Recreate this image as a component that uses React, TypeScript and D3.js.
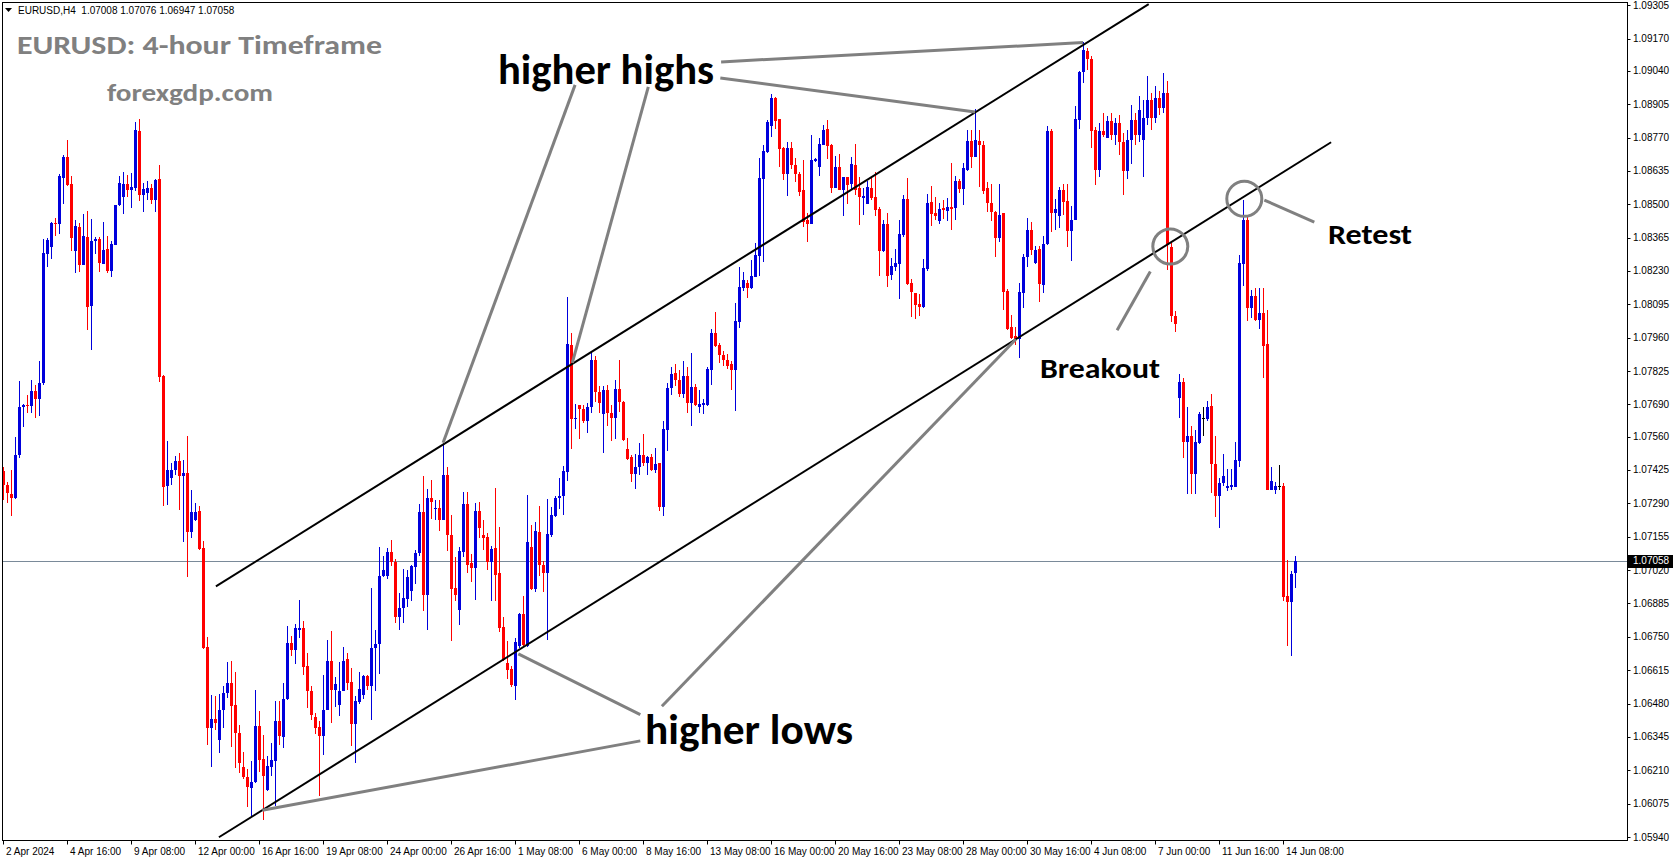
import React from 'react';
import * as d3 from 'd3';

// ---- Candle data (EURUSD H4, 2 Apr 2024 00:00 -> 14 Jun 2024 20:00) ----
const opens = [
1.07421,1.07366,1.07327,1.07310,1.07487,1.07680,1.07688,1.07682,1.07745,1.07711,
1.07776,1.08299,1.08329,1.08424,1.08422,1.08608,1.08690,1.08582,1.08312,1.08408,
1.08256,1.08368,1.08090,1.08353,1.08358,1.08260,1.08319,1.08228,1.08337,1.08496,
1.08531,1.08582,1.08558,1.08567,1.08796,1.08539,1.08547,1.08566,1.08517,1.08602,
1.07806,1.07361,1.07394,1.07423,1.07462,1.07401,1.07412,1.07172,1.07221,1.07260,
1.07109,1.06710,1.06379,1.06417,1.06331,1.06452,1.06524,1.06564,1.06475,1.06362,
1.06224,1.06184,1.06138,1.06162,1.06390,1.06255,1.06129,1.06222,1.06246,1.06408,
1.06343,1.06497,1.06723,1.06695,1.06779,1.06787,1.06630,1.06532,1.06424,1.06387,
1.06347,1.06455,1.06653,1.06533,1.06475,1.06532,1.06661,1.06568,1.06397,1.06486,
1.06516,1.06590,1.06549,1.06703,1.06719,1.06997,1.06998,1.07094,1.07051,1.06832,
1.06866,1.06902,1.06937,1.07032,1.07089,1.07256,1.06919,1.07312,1.07268,1.07272,
1.07222,1.07405,1.07161,1.06948,1.06859,1.07095,1.07288,1.07047,1.07029,1.07260,
1.07161,1.07152,1.07053,1.07109,1.07009,1.06790,1.06646,1.06618,1.06552,1.06714,
1.06843,1.06711,1.07115,1.06942,1.07175,1.07041,1.07010,1.07163,1.07237,1.07310,
1.07318,1.07418,1.07931,1.07630,1.07687,1.07671,1.07625,1.07678,1.07870,1.07742,
1.07651,1.07749,1.07655,1.07634,1.07752,1.07700,1.07509,1.07477,1.07408,1.07439,
1.07486,1.07455,1.07479,1.07425,1.07452,1.07277,1.07585,1.07756,1.07816,1.07789,
1.07733,1.07806,1.07695,1.07760,1.07679,1.07688,1.07688,1.07830,1.07978,1.07931,
1.07891,1.07870,1.07853,1.07830,1.08025,1.08163,1.08183,1.08160,1.08207,1.08292,
1.08602,1.08713,1.08818,1.08929,1.08845,1.08726,1.08623,1.08726,1.08659,1.08623,
1.08558,1.08437,1.08420,1.08675,1.08652,1.08740,1.08803,1.08740,1.08567,1.08650,
1.08558,1.08609,1.08581,1.08659,1.08567,1.08527,1.08501,1.08567,1.08528,1.08480,
1.08311,1.08420,1.08214,1.08248,1.08258,1.08376,1.08522,1.08180,1.08140,1.08097,
1.08086,1.08237,1.08508,1.08466,1.08433,1.08485,1.08474,1.08488,1.08486,1.08594,
1.08561,1.08639,1.08757,1.08693,1.08756,1.08740,1.08565,1.08504,1.08470,1.08365,
1.08464,1.08149,1.08002,1.07965,1.07954,1.08140,1.08286,1.08396,1.08261,1.08318,
1.08174,1.08338,1.08797,1.08466,1.08453,1.08558,1.08513,1.08392,1.08437,1.08841,
1.09034,1.09120,1.09088,1.08801,1.08639,1.08797,1.08770,1.08837,1.08780,1.08830,
1.08750,1.08636,1.08760,1.08840,1.08780,1.08760,1.08850,1.08920,1.08850,1.08930,
1.08890,1.08950,1.08326,1.08048,1.07718,1.07779,1.07540,1.07563,1.07408,1.07536,
1.07634,1.07630,1.07682,1.07450,1.07318,1.07372,1.07354,1.07358,1.07358,1.07462,
1.08257,1.08437,1.08079,1.08127,1.08032,1.08059,1.07934,1.07345,1.07345,1.07361,
1.07361,1.06916,1.06889,1.07008
];
const highs = [
1.07439,1.07378,1.07425,1.07560,1.07785,1.07690,1.07729,1.07789,1.07769,1.07864,
1.08360,1.08365,1.08430,1.08443,1.08623,1.08700,1.08760,1.08615,1.08438,1.08424,
1.08461,1.08473,1.08441,1.08369,1.08368,1.08428,1.08372,1.08350,1.08497,1.08615,
1.08632,1.08620,1.08627,1.08833,1.08845,1.08588,1.08594,1.08584,1.08602,1.08659,
1.07808,1.07544,1.07453,1.07482,1.07493,1.07466,1.07564,1.07345,1.07292,1.07280,
1.07138,1.06751,1.06513,1.06510,1.06517,1.06549,1.06649,1.06653,1.06609,1.06394,
1.06285,1.06215,1.06249,1.06536,1.06448,1.06351,1.06266,1.06320,1.06491,1.06491,
1.06565,1.06795,1.06752,1.06803,1.06900,1.06815,1.06684,1.06549,1.06441,1.06408,
1.06594,1.06738,1.06774,1.06586,1.06650,1.06707,1.06684,1.06622,1.06509,1.06609,
1.06595,1.06596,1.06947,1.06778,1.07115,1.07078,1.07109,1.07142,1.07064,1.06927,
1.07024,1.07021,1.07041,1.07102,1.07288,1.07401,1.07347,1.07385,1.07304,1.07304,
1.07529,1.07435,1.07241,1.07071,1.07112,1.07335,1.07336,1.07085,1.07293,1.07297,
1.07223,1.07169,1.07118,1.07354,1.07196,1.06832,1.06731,1.06633,1.06745,1.06848,
1.06916,1.07324,1.07203,1.07214,1.07280,1.07057,1.07307,1.07274,1.07318,1.07392,
1.07442,1.08125,1.07978,1.07692,1.07688,1.07688,1.07695,1.07904,1.07886,1.07763,
1.07763,1.07767,1.07686,1.07789,1.07870,1.07705,1.07556,1.07486,1.07489,1.07533,
1.07571,1.07482,1.07489,1.07513,1.07455,1.07625,1.07776,1.07843,1.07854,1.07830,
1.07866,1.07841,1.07900,1.07773,1.07749,1.07711,1.07843,1.07994,1.08066,1.07940,
1.07908,1.07893,1.07864,1.08102,1.08248,1.08226,1.08194,1.08275,1.08342,1.08686,
1.08740,1.08841,1.08946,1.08935,1.08845,1.08733,1.08753,1.08753,1.08686,1.08632,
1.08679,1.08464,1.08780,1.08686,1.08767,1.08821,1.08841,1.08743,1.08695,1.08703,
1.08612,1.08612,1.08693,1.08743,1.08612,1.08565,1.08596,1.08612,1.08631,1.08487,
1.08437,1.08464,1.08282,1.08318,1.08437,1.08538,1.08608,1.08196,1.08143,1.08137,
1.08278,1.08542,1.08575,1.08531,1.08507,1.08518,1.08524,1.08666,1.08614,1.08601,
1.08668,1.08801,1.08801,1.08884,1.08801,1.08757,1.08591,1.08582,1.08473,1.08582,
1.08466,1.08158,1.08050,1.08002,1.08180,1.08298,1.08443,1.08428,1.08331,1.08333,
1.08372,1.08817,1.08804,1.08520,1.08571,1.08582,1.08582,1.08491,1.08898,1.09039,
1.09158,1.09131,1.09100,1.08811,1.08828,1.08871,1.08857,1.08870,1.08850,1.08860,
1.08790,1.08800,1.08900,1.08870,1.08940,1.08920,1.09020,1.08950,1.08980,1.08960,
1.09030,1.09000,1.08342,1.08069,1.07812,1.07796,1.07679,1.07603,1.07587,1.07661,
1.07679,1.07706,1.07732,1.07563,1.07392,1.07489,1.07428,1.07428,1.07537,1.08295,
1.08518,1.08447,1.08154,1.08160,1.08163,1.08163,1.08073,1.07439,1.07378,1.07446,
1.07374,1.07062,1.07017,1.07076
];
const lows = [
1.07304,1.07291,1.07239,1.07307,1.07475,1.07597,1.07655,1.07655,1.07634,1.07645,
1.07769,1.08248,1.08280,1.08373,1.08380,1.08500,1.08574,1.08312,1.08221,1.08226,
1.08253,1.07993,1.07909,1.08299,1.08224,1.08257,1.08221,1.08205,1.08334,1.08491,
1.08461,1.08531,1.08486,1.08555,1.08515,1.08470,1.08518,1.08501,1.08470,1.07779,
1.07280,1.07285,1.07365,1.07405,1.07261,1.07132,1.06990,1.07148,1.07218,1.07102,
1.06700,1.06311,1.06222,1.06371,1.06280,1.06381,1.06502,1.06306,1.06219,1.06199,
1.06176,1.06061,1.06023,1.06158,1.06205,1.06010,1.06125,1.06185,1.06064,1.06312,
1.06299,1.06494,1.06671,1.06641,1.06747,1.06594,1.06462,1.06414,1.06356,1.06104,
1.06270,1.06452,1.06401,1.06464,1.06431,1.06529,1.06536,1.06307,1.06239,1.06479,
1.06498,1.06533,1.06414,1.06532,1.06599,1.06990,1.06985,1.07037,1.06805,1.06776,
1.06805,1.06869,1.06893,1.06964,1.07078,1.06853,1.06778,1.07226,1.07223,1.07180,
1.07221,1.07099,1.06735,1.06896,1.06796,1.07072,1.07010,1.06970,1.06897,1.07149,
1.07102,1.07021,1.06896,1.06893,1.06768,1.06654,1.06579,1.06547,1.06493,1.06704,
1.06708,1.06707,1.06940,1.06930,1.06997,1.06933,1.06738,1.07153,1.07234,1.07268,
1.07241,1.07382,1.07509,1.07590,1.07550,1.07614,1.07574,1.07657,1.07698,1.07657,
1.07493,1.07601,1.07543,1.07550,1.07661,1.07544,1.07466,1.07378,1.07347,1.07405,
1.07442,1.07403,1.07419,1.07412,1.07257,1.07237,1.07500,1.07729,1.07763,1.07722,
1.07715,1.07657,1.07601,1.07682,1.07657,1.07652,1.07682,1.07767,1.07924,1.07857,
1.07847,1.07833,1.07749,1.07664,1.07998,1.08151,1.08120,1.08157,1.08207,1.08211,
1.08268,1.08709,1.08771,1.08803,1.08652,1.08598,1.08535,1.08642,1.08592,1.08534,
1.08410,1.08349,1.08420,1.08673,1.08615,1.08740,1.08683,1.08547,1.08565,1.08556,
1.08453,1.08501,1.08561,1.08538,1.08416,1.08457,1.08500,1.08517,1.08453,1.08210,
1.08307,1.08167,1.08194,1.08228,1.08117,1.08369,1.08174,1.08042,1.08035,1.08049,
1.08082,1.08232,1.08414,1.08437,1.08421,1.08439,1.08433,1.08396,1.08437,1.08547,
1.08497,1.08636,1.08646,1.08690,1.08571,1.08542,1.08470,1.08434,1.08286,1.08349,
1.08073,1.07992,1.07955,1.07931,1.07877,1.08079,1.08248,1.08295,1.08259,1.08106,
1.08140,1.08336,1.08389,1.08396,1.08403,1.08457,1.08329,1.08272,1.08437,1.08806,
1.08989,1.09043,1.08729,1.08578,1.08612,1.08771,1.08767,1.08760,1.08740,1.08700,
1.08538,1.08602,1.08663,1.08740,1.08750,1.08611,1.08820,1.08800,1.08830,1.08860,
1.08870,1.08234,1.08025,1.07985,1.07635,1.07475,1.07327,1.07327,1.07327,1.07529,
1.07563,1.07624,1.07331,1.07233,1.07192,1.07361,1.07341,1.07345,1.07358,1.07439,
1.08170,1.08028,1.08039,1.08028,1.07994,1.07799,1.07343,1.07343,1.07327,1.07345,
1.06893,1.06714,1.06671,1.06947
];
const closes = [
1.07365,1.07331,1.07310,1.07486,1.07680,1.07688,1.07682,1.07745,1.07713,1.07776,
1.08302,1.08356,1.08424,1.08420,1.08615,1.08690,1.08578,1.08365,1.08412,1.08256,
1.08372,1.08086,1.08352,1.08360,1.08264,1.08315,1.08228,1.08340,1.08496,1.08586,
1.08582,1.08558,1.08569,1.08801,1.08538,1.08562,1.08566,1.08517,1.08598,1.07803,
1.07357,1.07423,1.07423,1.07462,1.07399,1.07412,1.07172,1.07254,1.07254,1.07106,
1.06704,1.06379,1.06417,1.06400,1.06455,1.06524,1.06564,1.06470,1.06361,1.06239,
1.06184,1.06141,1.06162,1.06390,1.06250,1.06185,1.06226,1.06250,1.06408,1.06347,
1.06499,1.06726,1.06695,1.06784,1.06787,1.06626,1.06529,1.06435,1.06383,1.06347,
1.06455,1.06653,1.06533,1.06561,1.06532,1.06653,1.06565,1.06397,1.06489,1.06540,
1.06590,1.06549,1.06704,1.06722,1.06997,1.07021,1.07092,1.07051,1.06832,1.06866,
1.06906,1.06990,1.07035,1.07091,1.07256,1.06919,1.07312,1.07295,1.07271,1.07222,
1.07405,1.07160,1.06942,1.06921,1.07098,1.07288,1.07041,1.07029,1.07257,1.07192,
1.07148,1.07051,1.07106,1.07002,1.06784,1.06657,1.06614,1.06556,1.06727,1.06843,
1.06715,1.07134,1.06942,1.07179,1.07039,1.07008,1.07167,1.07243,1.07311,1.07320,
1.07421,1.07934,1.07630,1.07636,1.07671,1.07625,1.07679,1.07870,1.07740,1.07695,
1.07749,1.07655,1.07634,1.07752,1.07698,1.07547,1.07470,1.07408,1.07439,1.07486,
1.07455,1.07479,1.07425,1.07450,1.07277,1.07590,1.07756,1.07814,1.07787,1.07733,
1.07806,1.07695,1.07759,1.07688,1.07692,1.07695,1.07833,1.07978,1.07928,1.07891,
1.07870,1.07847,1.07830,1.08028,1.08167,1.08194,1.08163,1.08210,1.08295,1.08605,
1.08716,1.08834,1.08929,1.08838,1.08724,1.08623,1.08726,1.08659,1.08621,1.08551,
1.08430,1.08420,1.08679,1.08682,1.08744,1.08801,1.08737,1.08567,1.08650,1.08558,
1.08609,1.08578,1.08663,1.08558,1.08531,1.08534,1.08569,1.08527,1.08477,1.08311,
1.08420,1.08211,1.08250,1.08264,1.08380,1.08522,1.08176,1.08147,1.08093,1.08086,
1.08241,1.08504,1.08461,1.08453,1.08481,1.08477,1.08488,1.08481,1.08594,1.08561,
1.08648,1.08757,1.08693,1.08760,1.08740,1.08555,1.08504,1.08470,1.08365,1.08457,
1.08147,1.07996,1.07958,1.07955,1.08144,1.08288,1.08396,1.08313,1.08315,1.08176,
1.08340,1.08797,1.08466,1.08480,1.08558,1.08511,1.08392,1.08437,1.08845,1.09037,
1.09124,1.09086,1.08798,1.08639,1.08797,1.08780,1.08837,1.08780,1.08830,1.08750,
1.08636,1.08760,1.08840,1.08780,1.08880,1.08850,1.08920,1.08850,1.08930,1.08890,
1.08950,1.08336,1.08048,1.08015,1.07779,1.07540,1.07563,1.07408,1.07540,1.07652,
1.07634,1.07679,1.07448,1.07318,1.07372,1.07401,1.07361,1.07365,1.07466,1.08261,
1.08437,1.08082,1.08127,1.08032,1.08059,1.07928,1.07345,1.07381,1.07361,1.07361,
1.06913,1.06889,1.07005,1.07058
];

const timeLabels = [
  '2 Apr 2024', '4 Apr 16:00', '9 Apr 08:00', '12 Apr 00:00', '16 Apr 16:00', '19 Apr 08:00',
  '24 Apr 00:00', '26 Apr 16:00', '1 May 08:00', '6 May 00:00', '8 May 16:00', '13 May 08:00',
  '16 May 00:00', '20 May 16:00', '23 May 08:00', '28 May 00:00', '30 May 16:00', '4 Jun 08:00',
  '7 Jun 00:00', '11 Jun 16:00', '14 Jun 08:00'
];
const barsPerLabel = 16;
const priceTicks = [
  1.09305, 1.09170, 1.09040, 1.08905, 1.08770, 1.08635, 1.08500, 1.08365, 1.08230, 1.08095,
  1.07960, 1.07825, 1.07690, 1.07560, 1.07425, 1.07290, 1.07155, 1.07020, 1.06885, 1.06750,
  1.06615, 1.06480, 1.06345, 1.06210, 1.06075, 1.05940
];
const lastPrice = 1.07058;
const headerText = 'EURUSD,H4  1.07008 1.07076 1.06947 1.07058';

// annotation geometry in (bar index, price)
const channelUpper = [[53.1, 1.06954], [286.3, 1.09310]];
const channelLower = [[53.85, 1.05939], [331.9, 1.08751]];
const pointerLines = [
  [[142.9, 1.08983], [109.9, 1.07535]],
  [[161.2, 1.08975], [142.2, 1.07858]],
  [[179.4, 1.09076], [269.9, 1.09154]],
  [[179.2, 1.09011], [242.9, 1.08873]],
  [[64.7, 1.06048], [159.2, 1.06329]],
  [[128.7, 1.06681], [159.2, 1.06435]],
  [[164.6, 1.06469], [253.1, 1.07954]],
  [[278.4, 1.07990], [286.7, 1.08228]],
  [[315.2, 1.08517], [327.7, 1.08428]],
];
const circlesAt = [[291.7, 1.08329], [310.2, 1.08522]];

export default function App() {
  const W = 1673, H = 861;
  const plotL = 2.5, plotR = 1627.5, plotT = 2.5, plotB = 840.5;
  const n = closes.length;
  const x = d3.scaleLinear().domain([0, n - 1]).range([3.5, 3.5 + 4 * (n - 1)]);
  const y = d3.scaleLinear().domain([1.0594, 1.09305]).range([837, 5.3]);
  const line = d3.line<number[]>().x((d) => x(d[0])).y((d) => y(d[1]));
  const bull = '#0000DC', bear = '#FF0000';
  const annoFont = "Carlito, Lato, 'Open Sans', sans-serif";
  const axisFont = "'Liberation Sans', Arial, sans-serif";

  return (
    <div style={{ position: 'absolute', left: 0, top: 0 }}>
      <svg width={W} height={H} style={{ display: 'block', background: '#fff' }}>
        <defs>
          <clipPath id="plot">
            <rect x={plotL} y={plotT} width={plotR - plotL} height={plotB - plotT} />
          </clipPath>
        </defs>
        <rect x={0} y={0} width={W} height={H} fill="#fff" />
        {/* current price line */}
        <line x1={plotL} x2={plotR} y1={Math.round(y(lastPrice)) + 0.5} y2={Math.round(y(lastPrice)) + 0.5} stroke="#7a8a99" strokeWidth={1} />
        <g clipPath="url(#plot)">
          {closes.map((c, i) => {
            const o = opens[i], h = highs[i], l = lows[i];
            const col = c > o ? bull : c < o ? bear : '#000';
            const cx = Math.floor(x(i));
            const yh = y(h), yl = y(l);
            const yt = y(Math.max(o, c)), yb = y(Math.min(o, c));
            return (
              <g key={i}>
                <rect x={cx} y={Math.round(yh)} width={1} height={Math.max(1, Math.round(yl) - Math.round(yh))} fill={col} />
                <rect x={cx - 1} y={Math.round(yt)} width={3} height={Math.max(1, Math.round(yb) - Math.round(yt))} fill={col} />
              </g>
            );
          })}
          <path d={line(channelUpper as any) || ''} stroke="#000" strokeWidth={2} fill="none" />
          <path d={line(channelLower as any) || ''} stroke="#000" strokeWidth={2} fill="none" />
          {pointerLines.map((pl, i) => (
            <path key={i} d={line(pl as any) || ''} stroke="#808080" strokeWidth={3} fill="none" />
          ))}
          {circlesAt.map((c, i) => (
            <circle key={i} cx={x(c[0])} cy={y(c[1])} r={17.5} stroke="#808080" strokeWidth={3} fill="none" />
          ))}
        </g>
        {/* frame */}
        <rect x={plotL} y={plotT} width={plotR - plotL} height={plotB - plotT} fill="none" stroke="#000" strokeWidth={1} />
        {/* price axis */}
        {priceTicks.map((p, i) => (
          <g key={i}>
            <line x1={plotR} x2={plotR + 3} y1={Math.round(y(p)) + 0.5} y2={Math.round(y(p)) + 0.5} stroke="#000" />
            <text x={1633} y={y(p)} dy="0.35em" fontFamily={axisFont} fontSize={10} fill="#000">{p.toFixed(5)}</text>
          </g>
        ))}
        <rect x={1628} y={Math.round(y(lastPrice)) - 6} width={45} height={13} fill="#000" />
        <text x={1633} y={y(lastPrice)} dy="0.35em" fontFamily={axisFont} fontSize={10} fill="#fff">{lastPrice.toFixed(5)}</text>
        {/* time axis */}
        {timeLabels.map((t, i) => {
          const tx = Math.floor(x(i * barsPerLabel));
          return (
            <g key={i}>
              <line x1={tx + 0.5} x2={tx + 0.5} y1={plotB} y2={plotB + 4} stroke="#000" />
              <text x={tx + 3} y={851} dy="0.35em" fontFamily={axisFont} fontSize={10} fill="#000">{t}</text>
            </g>
          );
        })}
        {/* header */}
        <path d="M5,8 L12,8 L8.5,12 Z" fill="#000" />
        <text x={18} y={14} fontFamily={axisFont} fontSize={10} fill="#000" style={{ whiteSpace: 'pre' }}>{headerText}</text>
        {/* titles */}
        <text x={17} y={53.5} fontFamily={annoFont} fontWeight="bold" fontSize={26} fill="#808080" textLength={365} lengthAdjust="spacingAndGlyphs">EURUSD: 4-hour Timeframe</text>
        <text x={107} y={101} fontFamily={annoFont} fontWeight="bold" fontSize={24} fill="#808080" textLength={166} lengthAdjust="spacingAndGlyphs">forexgdp.com</text>
        {/* annotations */}
        <text x={498} y={84} fontFamily={annoFont} fontWeight="bold" fontSize={42} fill="#000" textLength={216} lengthAdjust="spacingAndGlyphs">higher highs</text>
        <text x={645} y={744} fontFamily={annoFont} fontWeight="bold" fontSize={42} fill="#000" textLength={208} lengthAdjust="spacingAndGlyphs">higher lows</text>
        <text x={1040} y={378} fontFamily={annoFont} fontWeight="bold" fontSize={28} fill="#000" textLength={120} lengthAdjust="spacingAndGlyphs">Breakout</text>
        <text x={1328} y={244} fontFamily={annoFont} fontWeight="bold" fontSize={28} fill="#000" textLength={84} lengthAdjust="spacingAndGlyphs">Retest</text>
      </svg>
    </div>
  );
}
